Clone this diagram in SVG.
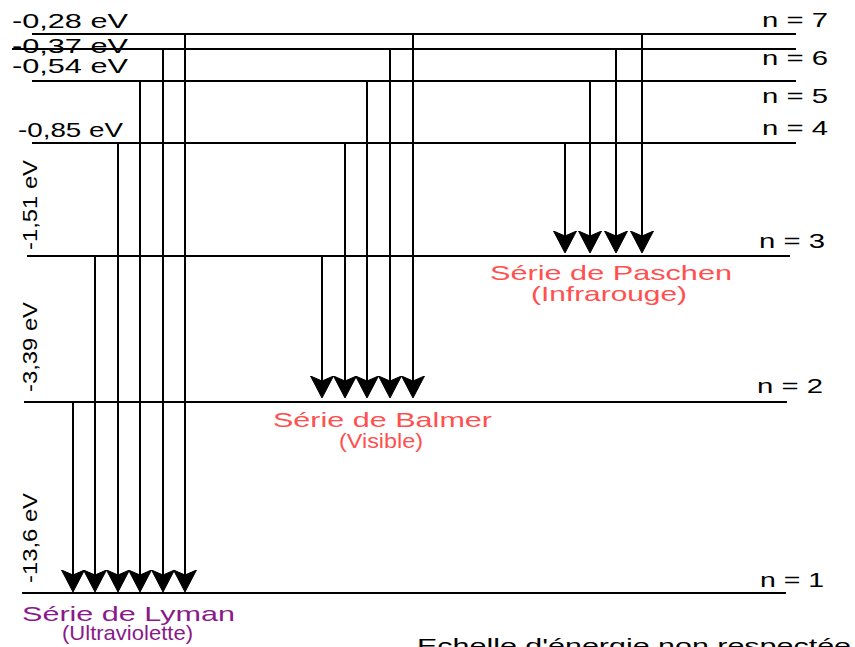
<svg xmlns="http://www.w3.org/2000/svg" width="855" height="647" viewBox="0 0 855 647">
<style>
.lvl{stroke:#000;stroke-width:2;fill:none}
.arr{stroke:#000;stroke-width:2;fill:none;marker-end:url(#ah)}
.t{font-family:"Liberation Sans",Arial,sans-serif;font-size:21px;fill:#000}
.red{fill:#ff5050}
.pur{fill:#8a1a8a}
</style>
<defs>
<marker id="ah" markerUnits="userSpaceOnUse" markerWidth="24" markerHeight="26" viewBox="0 -13 24 26" refX="14" refY="0" orient="auto">
<path d="M22,0 L0,-11.5 L5,0 L0,11.5 Z" fill="#000" stroke="#000" stroke-width="1" stroke-linejoin="miter"/>
</marker>
</defs>
<rect width="855" height="647" fill="#fff"/>

<g id="level-7">
<line class="lvl" x1="32" y1="34" x2="796" y2="34"/>
<text class="t" x="12" y="28" textLength="116" lengthAdjust="spacingAndGlyphs">-0,28 eV</text>
<text class="t" x="762" y="27" textLength="66" lengthAdjust="spacingAndGlyphs">n = 7</text>
</g>
<g id="level-6">
<line class="lvl" x1="12" y1="49" x2="796" y2="49"/>
<text class="t" x="12" y="53" textLength="116" lengthAdjust="spacingAndGlyphs">-0,37 eV</text>
<text class="t" x="762" y="65" textLength="66" lengthAdjust="spacingAndGlyphs">n = 6</text>
</g>
<g id="level-5">
<line class="lvl" x1="32" y1="81" x2="796" y2="81"/>
<text class="t" x="12" y="73" textLength="116" lengthAdjust="spacingAndGlyphs">-0,54 eV</text>
<text class="t" x="762" y="103" textLength="66" lengthAdjust="spacingAndGlyphs">n = 5</text>
</g>
<g id="level-4">
<line class="lvl" x1="32" y1="143" x2="796" y2="143"/>
<text class="t" x="18" y="137" textLength="105" lengthAdjust="spacingAndGlyphs">-0,85 eV</text>
<text class="t" x="762" y="135" textLength="66" lengthAdjust="spacingAndGlyphs">n = 4</text>
</g>
<g id="level-3">
<line class="lvl" x1="27" y1="256" x2="790" y2="256"/>
<text class="t" x="37" y="250" font-size="22" textLength="90" lengthAdjust="spacingAndGlyphs" transform="rotate(-90 37 250)">-1,51 eV</text>
<text class="t" x="759" y="248" textLength="66" lengthAdjust="spacingAndGlyphs">n = 3</text>
</g>
<g id="level-2">
<line class="lvl" x1="24" y1="402" x2="787" y2="402"/>
<text class="t" x="37" y="392" font-size="22" textLength="90" lengthAdjust="spacingAndGlyphs" transform="rotate(-90 37 392)">-3,39 eV</text>
<text class="t" x="757" y="393" textLength="66" lengthAdjust="spacingAndGlyphs">n = 2</text>
</g>
<g id="level-1">
<line class="lvl" x1="22" y1="593" x2="786" y2="593"/>
<text class="t" x="37" y="583" font-size="22" textLength="90" lengthAdjust="spacingAndGlyphs" transform="rotate(-90 37 583)">-13,6 eV</text>
<text class="t" x="760" y="587" textLength="64" lengthAdjust="spacingAndGlyphs">n = 1</text>
</g>

<g id="connectors">
<line class="arr" x1="73" y1="402" x2="73" y2="584"/>
<line class="arr" x1="95" y1="256" x2="95" y2="584"/>
<line class="arr" x1="118" y1="143" x2="118" y2="584"/>
<line class="arr" x1="140" y1="81" x2="140" y2="584"/>
<line class="arr" x1="163" y1="49" x2="163" y2="584"/>
<line class="arr" x1="185" y1="34" x2="185" y2="584"/>
<line class="arr" x1="322" y1="256" x2="322" y2="390"/>
<line class="arr" x1="345" y1="143" x2="345" y2="390"/>
<line class="arr" x1="367" y1="81" x2="367" y2="390"/>
<line class="arr" x1="390" y1="49" x2="390" y2="390"/>
<line class="arr" x1="413" y1="34" x2="413" y2="390"/>
<line class="arr" x1="565" y1="143" x2="565" y2="245"/>
<line class="arr" x1="590" y1="81" x2="590" y2="245"/>
<line class="arr" x1="616" y1="49" x2="616" y2="245"/>
<line class="arr" x1="642" y1="34" x2="642" y2="245"/>
</g>

<g id="serie-paschen">
<text class="t red" x="490" y="280" textLength="242" lengthAdjust="spacingAndGlyphs">Série de Paschen</text>
<text class="t red" x="531" y="301" textLength="156" lengthAdjust="spacingAndGlyphs">(Infrarouge)</text>
</g>
<g id="serie-balmer">
<text class="t red" x="273" y="427" textLength="219" lengthAdjust="spacingAndGlyphs">Série de Balmer</text>
<text class="t red" x="339" y="448" font-size="15" textLength="84" lengthAdjust="spacingAndGlyphs">(Visible)</text>
</g>
<g id="serie-lyman">
<text class="t pur" x="22" y="621" textLength="213" lengthAdjust="spacingAndGlyphs">Série de Lyman</text>
<text class="t pur" x="62" y="640" font-size="16" textLength="131" lengthAdjust="spacingAndGlyphs">(Ultraviolette)</text>
</g>
<g id="caption">
<text class="t" x="417" y="653" textLength="434" lengthAdjust="spacingAndGlyphs">Echelle d'énergie non respectée</text>
</g>
</svg>
